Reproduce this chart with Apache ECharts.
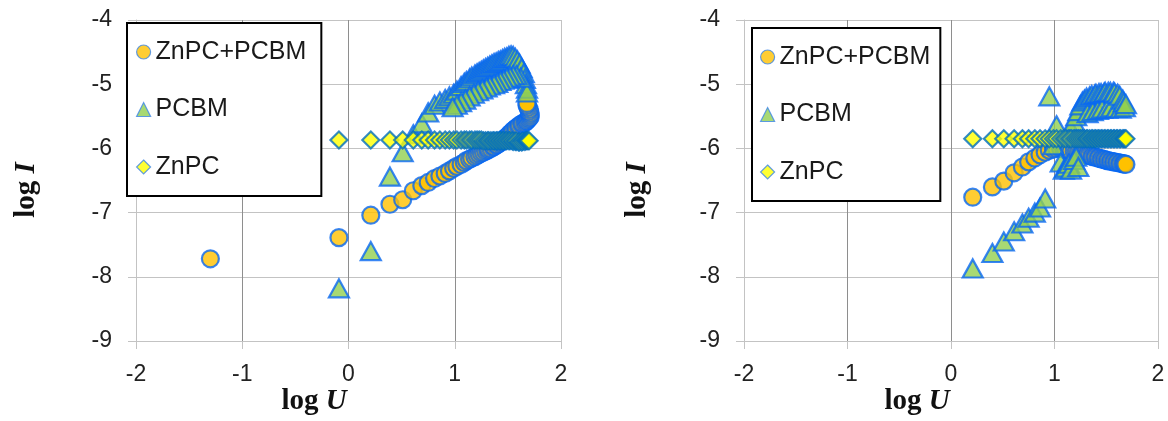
<!DOCTYPE html>
<html>
<head>
<meta charset="utf-8">
<style>
  html, body { margin: 0; padding: 0; background: #fff; }
  #chart { width: 1168px; height: 421px; }
</style>
<script src="https://cdn.jsdelivr.net/npm/echarts/dist/echarts.min.js"></script>
</head>
<body>
<div id="chart"></div>
<script>
// ---- Left panel: log I vs log U ----
const leftBlendU = [-1.30, -0.09, 0.21, 0.39, 0.51, 0.61, 0.69, 0.75, 0.81, 0.86, 0.91, 0.95, 0.99, 1.02, 1.06, 1.09, 1.11, 1.14, 1.16, 1.19, 1.21, 1.23, 1.25, 1.27, 1.29, 1.31, 1.32, 1.34, 1.36, 1.37, 1.39, 1.40, 1.42, 1.43, 1.45, 1.46, 1.48, 1.49, 1.51, 1.52, 1.54, 1.55, 1.57, 1.58, 1.60, 1.61, 1.63, 1.64, 1.66, 1.67, 1.68, 1.69, 1.70, 1.71, 1.71, 1.71, 1.70, 1.70, 1.69, 1.68, 1.68];
const leftBlendI = [-7.72, -7.39, -7.04, -6.87, -6.80, -6.66, -6.58, -6.53, -6.47, -6.43, -6.39, -6.35, -6.31, -6.28, -6.25, -6.22, -6.19, -6.17, -6.15, -6.13, -6.11, -6.09, -6.07, -6.06, -6.04, -6.03, -6.01, -6.00, -5.98, -5.97, -5.95, -5.94, -5.92, -5.90, -5.88, -5.86, -5.84, -5.82, -5.79, -5.77, -5.74, -5.72, -5.70, -5.68, -5.66, -5.64, -5.62, -5.61, -5.60, -5.58, -5.57, -5.55, -5.53, -5.51, -5.48, -5.45, -5.42, -5.39, -5.36, -5.33, -5.30];

const leftPcbmU = [-0.09, 0.21, 0.39, 0.51, 0.61, 0.69, 0.75, 0.81, 0.86, 0.91, 0.95, 0.99, 1.02, 1.06, 1.09, 1.11, 1.14, 1.16, 1.19, 1.21, 1.23, 1.25, 1.27, 1.29, 1.31, 1.33, 1.35, 1.37, 1.39, 1.41, 1.43, 1.45, 1.47, 1.49, 1.51, 1.53, 1.55, 1.57, 1.59, 1.61, 1.63, 1.65, 1.66, 1.67, 1.68, 1.68, 1.62, 1.58, 1.55, 1.52, 1.49, 1.46, 1.43, 1.40, 1.37, 1.33, 1.30, 1.26, 1.22, 1.18, 1.14, 1.10, 1.06, 1.02, 0.98];
const leftPcbmI = [-8.18, -7.60, -6.44, -6.06, -5.78, -5.61, -5.44, -5.32, -5.27, -5.23, -5.19, -5.15, -5.10, -5.03, -4.98, -4.95, -4.91, -4.88, -4.85, -4.83, -4.81, -4.79, -4.77, -4.75, -4.73, -4.71, -4.69, -4.67, -4.66, -4.64, -4.63, -4.61, -4.59, -4.58, -4.56, -4.55, -4.56, -4.59, -4.63, -4.68, -4.75, -4.83, -4.92, -5.00, -5.07, -5.13, -4.90, -4.86, -4.86, -4.88, -4.90, -4.93, -4.95, -4.98, -5.00, -5.02, -5.05, -5.08, -5.11, -5.15, -5.19, -5.24, -5.28, -5.32, -5.36];

const leftZnpcU = [-0.09, 0.21, 0.39, 0.51, 0.61, 0.69, 0.75, 0.81, 0.86, 0.91, 0.95, 0.99, 1.02, 1.06, 1.09, 1.11, 1.14, 1.16, 1.19, 1.21, 1.23, 1.25, 1.27, 1.29, 1.31, 1.32, 1.34, 1.36, 1.37, 1.39, 1.40, 1.42, 1.43, 1.45, 1.46, 1.48, 1.49, 1.51, 1.52, 1.54, 1.55, 1.57, 1.58, 1.60, 1.61, 1.63, 1.64, 1.66, 1.67, 1.68, 1.69, 1.70];
const leftZnpcI = [-5.87, -5.87, -5.87, -5.87, -5.87, -5.87, -5.87, -5.87, -5.87, -5.87, -5.87, -5.87, -5.87, -5.87, -5.87, -5.87, -5.87, -5.87, -5.87, -5.87, -5.87, -5.87, -5.88, -5.88, -5.88, -5.88, -5.88, -5.88, -5.88, -5.88, -5.88, -5.88, -5.88, -5.88, -5.88, -5.88, -5.88, -5.88, -5.88, -5.88, -5.89, -5.89, -5.89, -5.90, -5.90, -5.90, -5.89, -5.89, -5.88, -5.88, -5.88, -5.88];

// ---- Right panel: log I vs log U ----
const rightBlendU = [0.21, 0.40, 0.51, 0.61, 0.69, 0.75, 0.81, 0.86, 0.91, 0.95, 0.99, 1.02, 1.06, 1.09, 1.11, 1.14, 1.16, 1.19, 1.21, 1.23, 1.25, 1.27, 1.29, 1.31, 1.32, 1.34, 1.36, 1.37, 1.39, 1.40, 1.42, 1.43, 1.45, 1.46, 1.48, 1.49, 1.51, 1.52, 1.54, 1.55, 1.57, 1.58, 1.60, 1.61, 1.63, 1.64, 1.66, 1.67, 1.68, 1.69];
const rightBlendI = [-6.76, -6.60, -6.51, -6.38, -6.29, -6.21, -6.15, -6.10, -6.06, -6.03, -6.01, -6.00, -6.00, -6.01, -6.02, -6.03, -6.04, -6.05, -6.06, -6.07, -6.08, -6.08, -6.09, -6.10, -6.11, -6.11, -6.12, -6.13, -6.13, -6.14, -6.15, -6.15, -6.16, -6.17, -6.17, -6.18, -6.19, -6.19, -6.20, -6.20, -6.21, -6.21, -6.22, -6.22, -6.23, -6.23, -6.24, -6.24, -6.24, -6.25];

const rightPcbmU = [0.21, 0.40, 0.51, 0.61, 0.69, 0.75, 0.81, 0.86, 0.91, 0.95, 0.99, 1.02, 1.06, 1.09, 1.11, 1.14, 1.16, 1.19, 1.21, 1.23, 1.16, 1.19, 1.21, 1.23, 1.25, 1.27, 1.29, 1.31, 1.32, 1.34, 1.36, 1.37, 1.39, 1.40, 1.42, 1.43, 1.45, 1.46, 1.48, 1.49, 1.51, 1.52, 1.54, 1.55, 1.57, 1.58, 1.60, 1.61, 1.63, 1.64, 1.66, 1.67, 1.68, 1.69];
const rightPcbmI = [-7.87, -7.63, -7.45, -7.29, -7.17, -7.08, -7.00, -6.92, -6.78, -5.19, -5.95, -5.64, -6.22, -6.33, -6.30, -6.24, -6.33, -6.18, -6.13, -6.29, -5.70, -5.58, -5.50, -5.42, -5.33, -5.27, -5.24, -5.21, -5.45, -5.19, -5.17, -5.42, -5.16, -5.15, -5.40, -5.14, -5.14, -5.38, -5.13, -5.12, -5.38, -5.12, -5.12, -5.36, -5.12, -5.13, -5.37, -5.15, -5.18, -5.38, -5.24, -5.28, -5.36, -5.31];

const rightZnpcU = [0.21, 0.40, 0.51, 0.61, 0.69, 0.75, 0.81, 0.86, 0.91, 0.95, 0.99, 1.02, 1.06, 1.09, 1.11, 1.14, 1.16, 1.19, 1.21, 1.23, 1.25, 1.27, 1.29, 1.31, 1.32, 1.34, 1.36, 1.37, 1.39, 1.40, 1.42, 1.43, 1.45, 1.46, 1.48, 1.49, 1.51, 1.52, 1.54, 1.55, 1.57, 1.58, 1.60, 1.61, 1.63, 1.64, 1.66, 1.67, 1.68, 1.69];
const rightZnpcI = [-5.85, -5.85, -5.85, -5.85, -5.85, -5.85, -5.85, -5.85, -5.85, -5.85, -5.85, -5.85, -5.85, -5.85, -5.85, -5.85, -5.85, -5.85, -5.85, -5.85, -5.85, -5.85, -5.85, -5.85, -5.85, -5.85, -5.85, -5.85, -5.85, -5.85, -5.85, -5.85, -5.85, -5.85, -5.85, -5.85, -5.85, -5.85, -5.85, -5.85, -5.85, -5.85, -5.85, -5.85, -5.85, -5.85, -5.85, -5.85, -5.85, -5.85];

// Series names and axis ticks
const seriesNames = ['ZnPC+PCBM', 'PCBM', 'ZnPC'];
const xTicks = { min: -2, max: 2, step: 1 };
const yTicks = { min: -9, max: -4, step: 1 };

const SANS = '"Liberation Sans", Arial, sans-serif';
const SERIF = '"Liberation Serif", "Times New Roman", serif';

const pairs = (u, i) => u.map((v, k) => [v, i[k]]);

const markerStyles = {
  'ZnPC+PCBM': { symbol: 'circle', symbolSize: 17, itemStyle: { color: '#FFC000', borderColor: '#0868F2', borderWidth: 2.2 } },
  'PCBM': { symbol: 'triangle', symbolSize: [20, 18], itemStyle: { color: '#92D050', borderColor: '#0868F2', borderWidth: 2.2 } },
  'ZnPC': { symbol: 'diamond', symbolSize: 17, itemStyle: { color: '#FFFF00', borderColor: '#006EBE', borderWidth: 2.2 } }
};

const panels = [
  { left: 136, width: 425, data: [pairs(leftBlendU, leftBlendI), pairs(leftPcbmU, leftPcbmI), pairs(leftZnpcU, leftZnpcI)] },
  { left: 744, width: 414, data: [pairs(rightBlendU, rightBlendI), pairs(rightPcbmU, rightPcbmI), pairs(rightZnpcU, rightZnpcI)] }
];

const grids = panels.map(p => ({ left: p.left, width: p.width, top: 20, height: 321 }));

const xAxes = panels.map((p, idx) => ({
  type: 'value', gridIndex: idx,
  min: xTicks.min, max: xTicks.max, interval: xTicks.step,
  axisLine: { show: true, onZero: false, lineStyle: { color: '#c3c3c3', width: 1 } },
  axisTick: { show: true, length: 8, lineStyle: { color: '#c3c3c3' } },
  axisLabel: { fontFamily: SANS, fontSize: 23, color: '#222', margin: 22 },
  splitLine: { show: true, lineStyle: { color: ['#c3c3c3', '#8e8e8e', '#8e8e8e', '#8e8e8e', '#c3c3c3'], width: 1 } }
}));

const yAxes = panels.map((p, idx) => ({
  type: 'value', gridIndex: idx,
  min: yTicks.min, max: yTicks.max, interval: yTicks.step,
  axisLine: { show: true, onZero: false, lineStyle: { color: '#c3c3c3', width: 1 } },
  axisTick: { show: true, length: 8, lineStyle: { color: '#c3c3c3' } },
  axisLabel: { fontFamily: SANS, fontSize: 23, color: '#222', margin: 24 },
  splitLine: { show: true, lineStyle: { color: '#c3c3c3', width: 1 } }
}));

const series = [];
panels.forEach((p, idx) => {
  seriesNames.forEach((name, k) => {
    series.push(Object.assign({
      type: 'scatter', name: name,
      xAxisIndex: idx, yAxisIndex: idx,
      data: p.data[k],
      emphasis: { disabled: true },
      clip: false
    }, markerStyles[name]));
  });
});

// Legend icons keep the marker colours with a lighter outline
const legendItems = seriesNames.map(name => ({
  name: name,
  itemStyle: { borderWidth: 1.2, borderColor: '#3C86E8' }
}));

const legendBase = {
  orient: 'vertical',
  backgroundColor: '#fff',
  borderColor: '#000',
  borderWidth: 2,
  borderRadius: 0,
  itemWidth: 14,
  itemHeight: 14,
  itemGap: 29.5,
  selectedMode: false,
  textStyle: { fontFamily: SANS, fontSize: 25, color: '#1a1a1a', lineHeight: 28 },
  data: legendItems
};

const legends = [
  Object.assign({}, legendBase, { left: 127, top: 23, padding: [15, 15, 15, 9] }),
  Object.assign({}, legendBase, { left: 752, top: 28, padding: [15, 10, 15, 8] })
];

const titleRich = {
  a: { fontFamily: SERIF, fontSize: 29, fontWeight: 'bold', fill: '#111' },
  b: { fontFamily: SERIF, fontSize: 29, fontWeight: 'bold', fontStyle: 'italic', fill: '#111' }
};

function axisTitle(x, y, letter, rotation) {
  return {
    type: 'text', x: x, y: y, rotation: rotation,
    style: { text: '{a|log }{b|' + letter + '}', rich: titleRich, align: 'center', verticalAlign: 'middle' }
  };
}

const chart = echarts.init(document.getElementById('chart'), null, { renderer: 'canvas' });
chart.setOption({
  animation: false,
  backgroundColor: '#fff',
  grid: grids,
  xAxis: xAxes,
  yAxis: yAxes,
  legend: legends,
  series: series,
  graphic: [
    axisTitle(314, 402, 'U', 0),
    axisTitle(917, 402, 'U', 0),
    axisTitle(27, 190, 'I', Math.PI / 2),
    axisTitle(638, 190, 'I', Math.PI / 2)
  ]
});
</script>
</body>
</html>
